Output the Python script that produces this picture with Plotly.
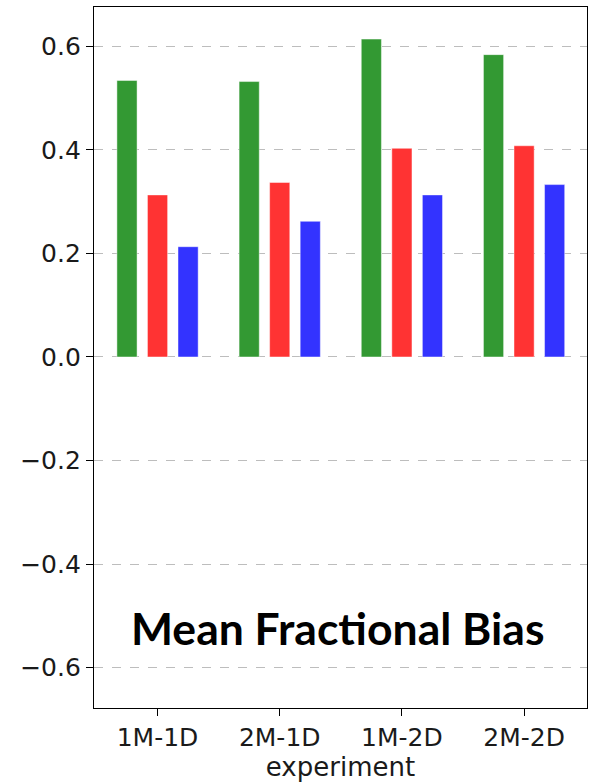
import plotly.graph_objects as go

# Experiments and Mean Fractional Bias for three series
experiments = ["1M-1D", "2M-1D", "1M-2D", "2M-2D"]
green_vals = [0.534, 0.532, 0.614, 0.584]
red_vals = [0.313, 0.337, 0.403, 0.408]
blue_vals = [0.213, 0.262, 0.313, 0.333]

y_ticks = [-0.6, -0.4, -0.2, 0.0, 0.2, 0.4, 0.6]
y_tick_text = ["\u22120.6", "\u22120.4", "\u22120.2", "0.0", "0.2", "0.4", "0.6"]

series = [
    (green_vals, "rgb(51,153,51)", -0.25),
    (red_vals, "rgb(255,51,51)", 0.0),
    (blue_vals, "rgb(51,51,255)", 0.25),
]
bar_width = 0.165

fig = go.Figure()
positions = list(range(len(experiments)))
for vals, color, offset in series:
    fig.add_trace(go.Bar(
        x=[p + offset for p in positions],
        y=vals,
        width=bar_width,
        marker=dict(color=color, line=dict(color="rgba(255,255,255,0.45)", width=1)),
        showlegend=False,
    ))

tick_font = dict(family="DejaVu Sans", size=25, color="#1a1a1a")

fig.update_layout(
    width=590,
    height=782,
    margin=dict(l=94, r=3, t=7, b=74),
    paper_bgcolor="white",
    plot_bgcolor="white",
    barmode="overlay",
    xaxis=dict(
        range=[-0.52, 3.515],
        tickmode="array",
        tickvals=positions,
        ticktext=experiments,
        ticks="outside",
        ticklen=7,
        tickwidth=1.3,
        tickcolor="black",
        tickfont=tick_font,
        showline=True,
        mirror=True,
        linecolor="black",
        linewidth=1.3,
        showgrid=False,
        zeroline=False,
        title=dict(text="experiment", font=dict(family="DejaVu Sans", size=26, color="#1a1a1a"), standoff=4),
    ),
    yaxis=dict(
        range=[-0.678, 0.676],
        tickmode="array",
        tickvals=y_ticks,
        ticktext=y_tick_text,
        ticks="outside",
        ticklen=7,
        tickwidth=1.3,
        tickcolor="black",
        tickfont=tick_font,
        showline=True,
        mirror=True,
        linecolor="black",
        linewidth=1.3,
        showgrid=True,
        gridcolor="#bdbdbd",
        griddash="dash",
        gridwidth=1.2,
        zeroline=False,
    ),
    annotations=[dict(
        text="<b>Mean Fractional Bias</b>",
        x=0.494, y=-0.522,
        xref="paper", yref="y",
        showarrow=False,
        font=dict(family="Lato", size=44.5, color="black"),
        xanchor="center", yanchor="middle",
    )],
)

fig.write_html("out.html")
